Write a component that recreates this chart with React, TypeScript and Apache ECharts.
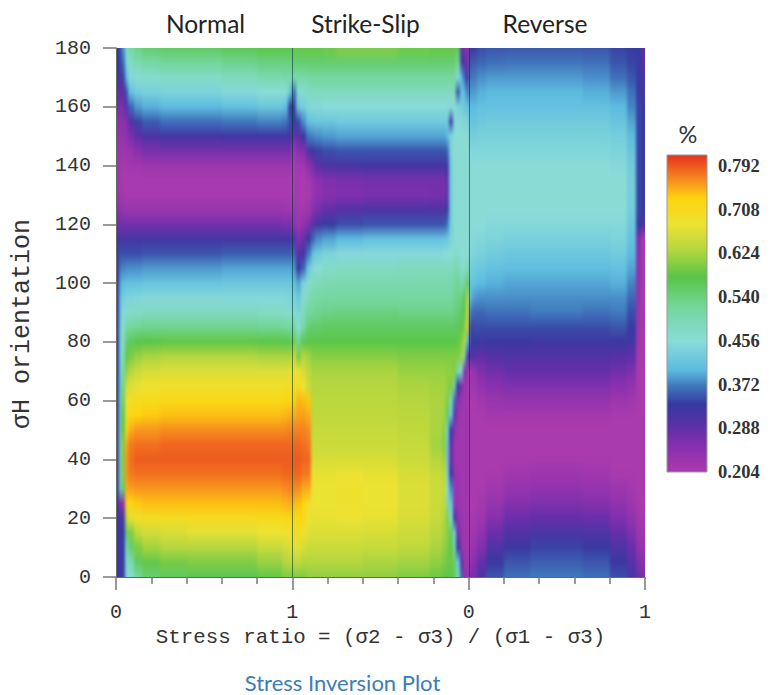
import React, { useEffect, useRef } from "react";
import * as echarts from "echarts";

const MONO = "'Liberation Mono', monospace";
const SANS = "Lato, 'Noto Sans', sans-serif";

const panelTitles = ["Normal", "Strike-Slip", "Reverse"];
const xTickLabels = ["0", "1", "0", "1"];
const legendTicks = [0.204, 0.288, 0.372, 0.456, 0.54, 0.624, 0.708, 0.792];
const panelSeparators = [1, 2];

// value -> colour stops of the scale
const scaleStops: [number, string][] = [
  [0.204, "#ab3bae"], [0.25, "#8a30ae"], [0.29, "#5f2fa8"], [0.334, "#3739a0"], [0.37, "#4079bd"],
  [0.4, "#5cbbe0"], [0.456, "#8adcd8"], [0.52, "#74d69c"], [0.578, "#58c548"], [0.63, "#b4d63f"],
  [0.68, "#ece232"], [0.73, "#fdd40e"], [0.76, "#f8961e"], [0.813, "#e5301f"],
];

// Rows are sigma-H = 0, 5, 10 ... 180 (37 values per column)
const normalEdges = [0, 0.015, 0.03, 0.05, 0.07, 0.1, 0.15, 0.25, 0.4, 0.6, 0.8, 0.94, 0.975];
const normalCols = [
  [.33,.33,.33,.33,.33,.33,.335,.335,.335,.335, .335,.335,.335,.335,.335,.335,.335,.335,.335,.335, .335,.335,.335,.325,.28,.25,.23,.225,.225,.23, .24,.25,.27,.30,.33,.335,.335],
  [.33,.33,.33,.33,.32,.25,.44,.45,.45,.45, .45,.44,.44,.43,.43,.43,.43,.42,.41,.40, .39,.37,.35,.32,.27,.24,.22,.215,.215,.225, .235,.245,.26,.285,.31,.33,.335],
  [.335,.335,.335,.335,.32,.25,.56,.60,.60,.60, .58,.57,.55,.53,.51,.49,.48,.47,.45,.43, .40,.375,.345,.32,.27,.235,.215,.21,.215,.225, .24,.25,.27,.295,.34,.36,.38],
  [.45,.47,.49,.55,.64,.72,.75,.76,.76,.75, .72,.70,.68,.65,.61,.58,.55,.52,.47,.44, .41,.38,.345,.32,.27,.23,.21,.21,.215,.225, .24,.255,.30,.345,.40,.44,.47],
  [.47,.50,.55,.60,.67,.73,.755,.775,.78,.775, .75,.72,.70,.665,.635,.60,.565,.52,.475,.44, .41,.38,.345,.32,.27,.23,.21,.21,.22,.235, .265,.30,.36,.41,.45,.48,.51],
  [.52,.56,.60,.64,.69,.735,.76,.78,.79,.78, .76,.73,.705,.675,.65,.615,.575,.525,.48,.445, .41,.38,.345,.32,.27,.23,.21,.21,.22,.25, .29,.34,.385,.43,.465,.50,.53],
  [.55,.585,.62,.655,.70,.74,.76,.78,.79,.78, .76,.735,.71,.685,.66,.625,.58,.53,.485,.45, .415,.385,.35,.32,.27,.23,.21,.21,.225,.265, .31,.355,.395,.435,.47,.51,.55],
  [.56,.595,.63,.66,.70,.74,.76,.78,.79,.785, .765,.74,.715,.69,.665,.63,.585,.53,.485,.45, .415,.385,.35,.32,.27,.23,.21,.21,.225,.27, .32,.365,.40,.44,.475,.52,.56],
  [.57,.60,.63,.67,.705,.74,.76,.78,.79,.785, .765,.74,.715,.69,.665,.63,.585,.53,.485,.45, .415,.385,.35,.32,.27,.23,.21,.21,.225,.27, .32,.365,.40,.44,.475,.52,.56],
  [.57,.60,.63,.67,.705,.74,.76,.78,.79,.785, .765,.74,.715,.69,.665,.63,.585,.53,.485,.45, .42,.39,.355,.32,.27,.23,.21,.21,.225,.27, .325,.37,.41,.45,.485,.53,.57],
  [.585,.615,.645,.68,.71,.74,.76,.78,.79,.785, .765,.74,.715,.69,.665,.625,.58,.525,.48,.45, .42,.39,.355,.32,.27,.23,.21,.21,.225,.27, .325,.375,.42,.46,.50,.54,.58],
  [.60,.63,.655,.685,.715,.745,.765,.785,.79,.785, .765,.745,.72,.695,.665,.625,.575,.52,.475,.45, .42,.39,.355,.32,.265,.225,.21,.21,.225,.27, .325,.37,.41,.46,.505,.54,.58],
  [.60,.64,.665,.69,.72,.75,.77,.785,.79,.785, .77,.75,.725,.70,.67,.625,.57,.515,.47,.44, .42,.39,.355,.32,.265,.225,.21,.21,.225,.27, .325,.345,.335,.42,.50,.54,.57],
];

const strikeEdges = [1, 1.02, 1.05, 1.08, 1.105, 1.13, 1.17, 1.25, 1.4, 1.6, 1.78, 1.85, 1.87, 1.89, 1.91, 1.93, 1.95, 1.97, 1.985];
const strikeCols = [
  [.60,.64,.67,.70,.72,.745,.765,.785,.79,.785, .77,.75,.73,.71,.69,.655,.60,.52,.47,.44, .41,.385,.36,.30,.25,.225,.21,.205,.21,.225, .28,.33,.335,.36,.50,.55,.585],
  [.60,.64,.67,.70,.72,.74,.765,.785,.79,.785, .77,.755,.745,.70,.675,.60,.53,.46,.44,.42, .39,.33,.29,.26,.225,.215,.21,.21,.22,.25, .30,.345,.42,.47,.505,.55,.585],
  [.60,.63,.66,.69,.715,.73,.75,.775,.785,.78, .77,.755,.74,.68,.66,.63,.57,.51,.49,.47, .44,.36,.32,.28,.24,.215,.205,.205,.22,.26, .33,.38,.43,.47,.505,.55,.585],
  [.61,.63,.65,.67,.68,.69,.75,.775,.785,.775, .765,.75,.735,.65,.64,.62,.58,.55,.52,.49, .47,.42,.37,.33,.26,.225,.21,.215,.245,.31, .37,.41,.445,.48,.51,.55,.585],
  [.61,.63,.65,.665,.675,.68,.68,.68,.66,.65, .645,.64,.635,.63,.625,.605,.58,.555,.525,.505, .485,.45,.41,.36,.30,.25,.23,.235,.27,.33, .375,.415,.45,.485,.515,.55,.585],
  [.61,.63,.65,.665,.675,.68,.68,.675,.66,.65, .645,.64,.635,.63,.625,.605,.58,.555,.53,.51, .49,.46,.425,.38,.32,.27,.245,.25,.295,.34, .38,.42,.45,.485,.515,.55,.585],
  [.61,.63,.65,.665,.675,.68,.68,.675,.66,.65, .645,.64,.635,.63,.625,.605,.58,.56,.535,.515, .495,.475,.44,.39,.335,.285,.255,.26,.31,.345, .385,.42,.455,.485,.515,.55,.59],
  [.61,.63,.65,.665,.68,.685,.685,.68,.66,.65, .645,.64,.635,.63,.625,.605,.58,.56,.54,.515, .50,.48,.45,.40,.345,.30,.26,.265,.315,.35, .39,.425,.455,.485,.515,.55,.60],
  [.61,.625,.645,.66,.675,.68,.68,.675,.66,.65, .645,.64,.635,.63,.625,.605,.58,.56,.54,.515, .50,.48,.45,.41,.35,.31,.265,.27,.32,.35, .39,.425,.455,.485,.515,.55,.60],
  [.60,.62,.64,.65,.66,.665,.665,.66,.65,.645, .64,.635,.63,.625,.615,.60,.58,.56,.535,.515, .50,.485,.45,.41,.35,.31,.265,.27,.32,.35, .39,.425,.455,.485,.515,.55,.59],
  [.59,.61,.625,.635,.645,.65,.65,.645,.63,.62, .625,.625,.625,.62,.615,.60,.58,.56,.535,.515, .50,.485,.45,.41,.35,.31,.27,.27,.32,.35, .39,.425,.455,.485,.515,.55,.585],
  [.58,.60,.61,.62,.63,.64,.645,.64,.62,.605, .61,.62,.62,.62,.615,.60,.58,.56,.535,.515, .50,.485,.455,.415,.35,.31,.27,.27,.32,.35, .39,.425,.455,.485,.515,.55,.585],
  [.58,.59,.60,.61,.60,.50,.46,.44,.42,.42, .44,.56,.60,.61,.61,.60,.58,.56,.535,.515, .50,.485,.455,.42,.37,.33,.30,.30,.33,.36, .40,.43,.455,.485,.515,.55,.585],
  [.58,.59,.58,.56,.47,.42,.38,.33,.28,.29, .33,.42,.50,.60,.61,.60,.58,.56,.535,.515, .50,.485,.46,.44,.43,.43,.43,.43,.43,.44, .44,.34,.455,.485,.515,.55,.585],
  [.56,.55,.49,.44,.33,.24,.23,.23,.225,.225, .24,.30,.36,.50,.60,.60,.58,.56,.54,.53, .52,.50,.47,.46,.46,.46,.46,.46,.46,.46, .46,.45,.46,.485,.515,.55,.585],
  [.50,.42,.33,.27,.24,.23,.225,.225,.22,.22, .225,.23,.25,.33,.50,.60,.585,.565,.55,.535, .525,.50,.47,.46,.46,.46,.46,.46,.46,.46, .46,.45,.44,.35,.45,.52,.56],
  [.36,.30,.24,.23,.23,.22,.22,.22,.22,.22, .22,.22,.23,.25,.45,.62,.60,.58,.56,.54, .50,.47,.46,.46,.46,.46,.46,.46,.46,.46, .46,.45,.43,.42,.40,.34,.30],
  [.24,.23,.22,.22,.22,.22,.22,.22,.22,.22, .22,.22,.22,.23,.26,.50,.63,.60,.58,.57, .52,.47,.46,.46,.46,.46,.46,.46,.46,.46, .46,.44,.42,.40,.36,.30,.26],
  [.22,.22,.22,.22,.22,.22,.22,.22,.22,.22, .22,.22,.22,.22,.23,.30,.40,.66,.66,.63, .56,.50,.46,.46,.46,.46,.46,.46,.46,.46, .46,.44,.41,.37,.31,.26,.24],
];

const reverseEdges = [2, 2.02, 2.05, 2.1, 2.2, 2.35, 2.5, 2.65, 2.8, 2.9, 2.95, 2.98, 3];
const reverseCols = [
  [.26,.24,.225,.215,.21,.21,.21,.21,.21,.21, .21,.21,.21,.215,.22,.30,.335,.34,.37,.40, .42,.435,.445,.45,.455,.455,.46,.46,.455,.45, .43,.415,.40,.385,.37,.35,.33],
  [.27,.25,.235,.22,.215,.21,.205,.205,.205,.205, .205,.205,.21,.22,.235,.30,.335,.345,.36,.385, .41,.425,.44,.45,.455,.46,.46,.46,.455,.445, .43,.415,.40,.385,.37,.355,.335],
  [.31,.285,.26,.24,.225,.215,.21,.205,.205,.205, .205,.21,.22,.24,.26,.29,.325,.345,.36,.38, .40,.42,.435,.445,.455,.46,.46,.46,.455,.445, .435,.42,.41,.395,.38,.36,.345],
  [.35,.33,.31,.28,.255,.235,.22,.21,.205,.205, .205,.215,.23,.25,.275,.30,.33,.345,.365,.38, .395,.41,.425,.44,.45,.455,.46,.46,.455,.445, .435,.425,.41,.40,.385,.365,.35],
  [.365,.35,.33,.305,.28,.255,.235,.22,.21,.205, .205,.215,.235,.26,.285,.305,.33,.345,.365,.38, .39,.405,.42,.435,.45,.455,.46,.46,.455,.445, .435,.425,.41,.40,.385,.368,.352],
  [.37,.355,.34,.315,.285,.26,.24,.225,.21,.205, .205,.215,.235,.26,.285,.305,.325,.345,.37,.38, .39,.405,.42,.435,.45,.455,.46,.46,.455,.445, .435,.425,.41,.40,.385,.368,.352],
  [.37,.355,.34,.315,.285,.26,.24,.225,.21,.205, .205,.215,.235,.26,.285,.305,.325,.345,.37,.38, .39,.405,.42,.435,.45,.455,.46,.46,.455,.445, .435,.425,.41,.40,.385,.368,.352],
  [.365,.35,.335,.31,.28,.255,.235,.22,.21,.205, .205,.215,.235,.26,.285,.305,.325,.345,.365,.38, .39,.405,.42,.435,.45,.455,.46,.46,.455,.445, .435,.425,.41,.395,.38,.365,.35],
  [.345,.33,.31,.285,.26,.24,.225,.21,.205,.205, .205,.21,.225,.25,.275,.30,.33,.35,.37,.38, .395,.41,.425,.44,.45,.455,.46,.455,.45,.44, .43,.415,.40,.385,.365,.35,.34],
  [.31,.30,.28,.26,.24,.225,.215,.21,.205,.205, .205,.21,.22,.24,.26,.29,.32,.335,.345,.36, .375,.39,.40,.41,.42,.43,.43,.43,.425,.415, .40,.39,.375,.365,.35,.34,.335],
  [.28,.26,.24,.225,.215,.21,.205,.205,.205,.205, .205,.205,.21,.21,.21,.215,.22,.225,.23,.235, .24,.245,.25,.26,.335,.34,.34,.34,.34,.34, .34,.34,.34,.335,.335,.335,.335],
  [.27,.25,.23,.22,.215,.21,.21,.21,.21,.21, .21,.21,.21,.21,.21,.21,.21,.21,.21,.21, .21,.21,.21,.21,.31,.33,.33,.33,.33,.33, .33,.33,.33,.32,.31,.30,.29],
];

const columnStarts = [...normalEdges, ...strikeEdges, ...reverseEdges.slice(0, -1)];
const columnValues = [...normalCols, ...strikeCols, ...reverseCols];

const GRID = { left: 116, top: 48, width: 529, height: 529 };
const BLEED = 10;

function hexToRgb(h: string) {
  return [1, 3, 5].map((i) => parseInt(h.slice(i, i + 2), 16));
}
function colourOf(v: number) {
  if (v <= scaleStops[0][0]) return scaleStops[0][1];
  for (let i = 1; i < scaleStops.length; i++) {
    const [b, cb] = scaleStops[i];
    if (v <= b) {
      const [a, ca] = scaleStops[i - 1];
      const t = (v - a) / (b - a);
      const A = hexToRgb(ca), B = hexToRgb(cb);
      return `rgb(${A.map((c, k) => Math.round(c + (B[k] - c) * t)).join(",")})`;
    }
  }
  return scaleStops[scaleStops.length - 1][1];
}

export default function App() {
  const heatRef = useRef<HTMLDivElement>(null);
  const ref = useRef<HTMLDivElement>(null);
  useEffect(() => {
    const heat = echarts.init(heatRef.current!, undefined, { renderer: "svg" });
    const chart = echarts.init(ref.current!, undefined, { renderer: "svg" });
    const legendMin = scaleStops[0][0];
    const legendMax = scaleStops[scaleStops.length - 1][0];
    const columnData = columnStarts.map((x, i) => [x, i + 1 < columnStarts.length ? columnStarts[i + 1] : 3]);
    heat.setOption({
      animation: false,
      grid: GRID,
      xAxis: { type: "value", min: 0, max: 3, show: false },
      yAxis: { type: "value", min: 0, max: 180, show: false },
      series: [
        {
          type: "custom", clip: false, silent: true,
          encode: { x: [0, 1] }, data: columnData,
          renderItem: (params: any, api: any) => {
            const vals = columnValues[params.dataIndex];
            const a = api.coord([api.value(0), 180]);
            const b = api.coord([api.value(1), 0]);
            const x0 = Math.round(a[0]) - (params.dataIndex === 0 ? BLEED : 0);
            const x1 = Math.round(b[0]) + (params.dataIndex === columnData.length - 1 ? BLEED : 0);
            const h = b[1] - a[1];
            return {
              type: "rect",
              shape: { x: x0, y: a[1] - BLEED, width: x1 - x0, height: h + 2 * BLEED },
              style: {
                fill: new echarts.graphic.LinearGradient(0, 1, 0, 0,
                  vals.map((v: number, i: number) => ({
                    offset: (BLEED + (h * i) / (vals.length - 1)) / (h + 2 * BLEED),
                    color: colourOf(v),
                  }))),
              },
            };
          },
        },
      ],
    });
    chart.setOption({
      animation: false,
      grid: [
        GRID,
        { left: 667, top: 155, width: 40, height: 317 },
      ],
      xAxis: [
        {
          type: "value", min: 0, max: 3, interval: 1, gridIndex: 0,
          name: "Stress ratio = (σ2 - σ3) / (σ1 - σ3)", nameLocation: "middle", nameGap: 50,
          nameTextStyle: { fontFamily: MONO, fontSize: 20.8, color: "#333" },
          axisLine: { lineStyle: { color: "#666", width: 1 } },
          axisTick: { length: 13, lineStyle: { color: "#777", width: 1.5 } },
          minorTick: { show: true, splitNumber: 5, length: 7, lineStyle: { color: "#777", width: 1.5 } },
          splitLine: { show: false },
          axisLabel: {
            margin: 25, fontFamily: MONO, fontSize: 20, color: "#333",
            formatter: (v: number) => xTickLabels[Math.round(v)],
          },
        },
        { type: "value", min: 0, max: 1, gridIndex: 1, show: false },
      ],
      yAxis: [
        {
          type: "value", min: 0, max: 180, interval: 20, gridIndex: 0,
          axisLine: { lineStyle: { color: "#666", width: 1 } },
          axisTick: { length: 13, lineStyle: { color: "#777", width: 1.5 } },
          splitLine: { show: false },
          axisLabel: { margin: 25, fontFamily: MONO, fontSize: 20, color: "#333" },
        },
        {
          type: "value", min: legendMin, max: legendMax, gridIndex: 1, position: "right",
          axisLine: { show: false }, axisTick: { show: false }, splitLine: { show: false },
          axisLabel: {
            customValues: legendTicks, margin: 11, fontFamily: "'Liberation Serif', serif", fontSize: 18.5,
            fontWeight: "bold", color: "#333", formatter: (v: number) => v.toFixed(3),
          },
        },
      ],
      series: [
        {
          type: "custom", xAxisIndex: 0, yAxisIndex: 0, silent: true,
          encode: { x: 0 }, data: panelSeparators.map((x) => [x]),
          renderItem: (_p: any, api: any) => {
            const a = api.coord([api.value(0), 180]);
            const b = api.coord([api.value(0), 0]);
            const x = Math.round(a[0]) + 0.5;
            return {
              type: "line",
              shape: { x1: x, y1: a[1], x2: x, y2: b[1] },
              style: { stroke: "rgba(0,60,55,0.6)", lineWidth: 1 },
            };
          },
        },
        {
          type: "custom", xAxisIndex: 1, yAxisIndex: 1, silent: true,
          encode: { x: [0, 1] }, data: [[0, 1]],
          renderItem: (_p: any, api: any) => {
            const a = api.coord([api.value(0), legendMax]);
            const b = api.coord([api.value(1), legendMin]);
            return {
              type: "rect",
              shape: { x: a[0], y: a[1], width: b[0] - a[0], height: b[1] - a[1] },
              style: {
                stroke: "#999", lineWidth: 1,
                fill: new echarts.graphic.LinearGradient(0, 1, 0, 0,
                  scaleStops.map(([v, c]) => ({ offset: (v - legendMin) / (legendMax - legendMin), color: c }))),
              },
            };
          },
        },
      ],
      graphic: [
        ...panelTitles.map((t, i) => ({
          type: "text", x: [205.5, 365.5, 545][i], y: 23,
          style: { text: t, fontFamily: SANS, fontSize: 24.5, fill: "#222", textAlign: "center", textVerticalAlign: "middle" },
        })),
        { type: "text", x: 688, y: 134, style: { text: "%", fontFamily: SANS, fontSize: 23.5, fill: "#333", textAlign: "center", textVerticalAlign: "middle" } },
        { type: "text", x: 342.5, y: 682, style: { text: "Stress Inversion Plot", fontFamily: SANS, fontSize: 22, fill: "#3b7db5", textAlign: "center", textVerticalAlign: "middle" } },
        { type: "text", x: 22, y: 324, rotation: Math.PI / 2, style: { text: "σH orientation", fontFamily: MONO, fontSize: 25, fill: "#333", textAlign: "center", textVerticalAlign: "middle" } },
      ],
    });
    return () => {
      chart.dispose();
      heat.dispose();
    };
  }, []);
  return (
    <div style={{ position: "absolute", left: 0, top: 0, width: 777, height: 695, background: "#fff" }}>
      <svg width="0" height="0" style={{ position: "absolute" }}>
        <filter id="smear" x="-5%" y="-5%" width="110%" height="110%" colorInterpolationFilters="sRGB">
          <feGaussianBlur stdDeviation="1.8 1" />
        </filter>
      </svg>
      <div style={{ position: "absolute", left: GRID.left, top: GRID.top, width: GRID.width, height: GRID.height, overflow: "hidden" }}>
        <div ref={heatRef} style={{ position: "absolute", left: -GRID.left, top: -GRID.top, width: 777, height: 695, filter: "url(#smear)" }} />
      </div>
      <div ref={ref} style={{ position: "absolute", left: 0, top: 0, width: 777, height: 695 }} />
    </div>
  );
}
